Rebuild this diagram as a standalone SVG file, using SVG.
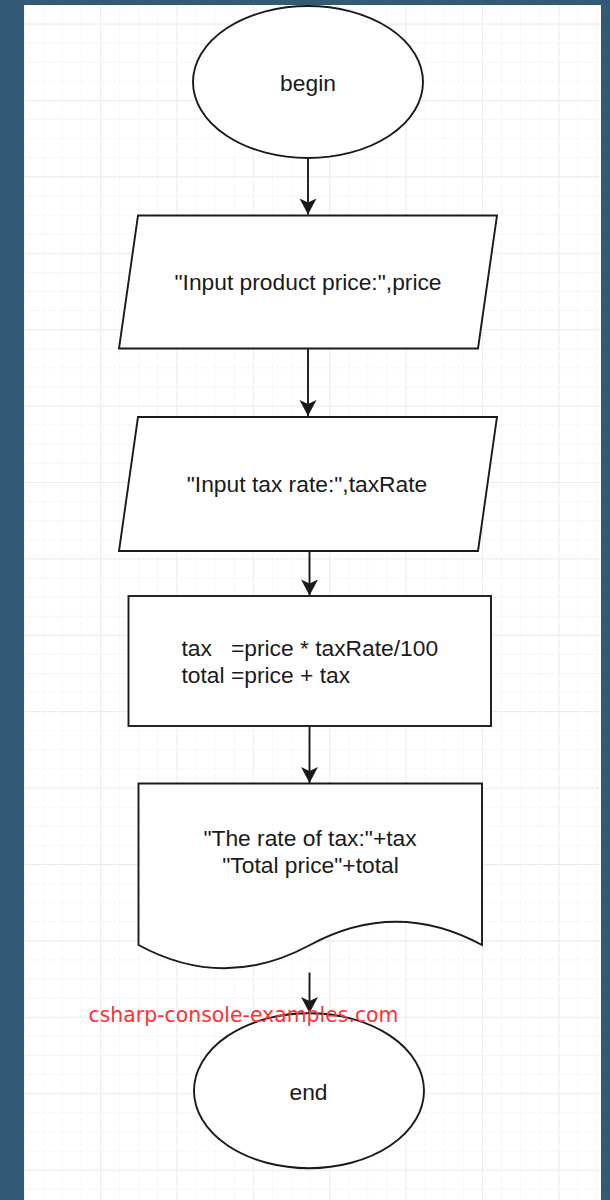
<svg xmlns="http://www.w3.org/2000/svg" width="610" height="1200" viewBox="0 0 610 1200">
  <style>
    .shape { fill: #ffffff; stroke: #1a1a1a; stroke-width: 1.9; }
    .label { font-family: "Liberation Sans", Arial, sans-serif; font-size: 22.8px; fill: #1a1a1a; }
    .mid { text-anchor: middle; }
    .edge { fill: none; stroke: #1a1a1a; stroke-width: 1.9; }
    .mark { font-family: "DejaVu Sans", Verdana, sans-serif; font-size: 20.4px; fill: #ff3030; }
  </style>
  <defs>
    <!-- light grid: minor cells with a darker line every fourth -->
    <pattern id="minor" x="100" y="100" width="19.1" height="19.1" patternUnits="userSpaceOnUse">
      <path d="M0 0 H19.1 M0 0 V19.1" fill="none" stroke="#f3f3f3" stroke-width="1.2"/>
    </pattern>
    <pattern id="major" x="100" y="100" width="76.4" height="76.4" patternUnits="userSpaceOnUse">
      <path d="M0 0 H76.4 M0 0 V76.4" fill="none" stroke="#e8e8e8" stroke-width="1.3"/>
    </pattern>
    <!-- classic arrowhead with a notched back, pointing along +x -->
    <marker id="arrow" markerUnits="userSpaceOnUse" markerWidth="20" markerHeight="20" viewBox="-18 -10 20 20" refX="0" refY="0" orient="auto">
      <path d="M0 0 L-16 -8.5 L-12 0 L-16 8.5 Z" fill="#1a1a1a"/>
    </marker>
  </defs>

  <!-- page frame and canvas -->
  <rect x="0" y="0" width="610" height="1200" fill="#325a74"/>
  <rect x="24" y="5" width="577" height="1195" fill="#ffffff"/>
  <rect x="24" y="5" width="577" height="1195" fill="url(#minor)"/>
  <rect x="24" y="5" width="577" height="1195" fill="url(#major)"/>

  <g id="connectors">
    <line class="edge" x1="308" y1="158" x2="308" y2="214.5" marker-end="url(#arrow)"/>
    <line class="edge" x1="308" y1="348.5" x2="308" y2="416" marker-end="url(#arrow)"/>
    <line class="edge" x1="309.5" y1="551" x2="309.5" y2="595.5" marker-end="url(#arrow)"/>
    <line class="edge" x1="309.5" y1="726" x2="309.5" y2="783" marker-end="url(#arrow)"/>
    <line class="edge" x1="309.5" y1="972.5" x2="309.5" y2="1013" marker-end="url(#arrow)"/>
  </g>

  <g id="begin">
    <ellipse class="shape" cx="308" cy="82" rx="115" ry="76"/>
    <text class="label mid" x="308" y="91">begin</text>
  </g>

  <g id="input-price">
    <polygon class="shape" points="138,215.5 497,215.5 478,348.5 119,348.5"/>
    <text class="label mid" x="308" y="290">"Input product price:",price</text>
  </g>

  <g id="input-rate">
    <polygon class="shape" points="138,417 497,417 478,551 119,551"/>
    <text class="label mid" x="307" y="492">"Input tax rate:",taxRate</text>
  </g>

  <g id="compute">
    <rect class="shape" x="128.5" y="596" width="362.5" height="130"/>
    <text class="label" x="181.5" y="656" xml:space="preserve">tax   =price * taxRate/100</text>
    <text class="label" x="181.5" y="683">total =price + tax</text>
  </g>

  <g id="output">
    <path class="shape" d="M138.5 783.5 H482 V945 Q396 898.5 310 945 Q224 991.5 138.5 945 Z"/>
    <text class="label mid" x="310" y="846">"The rate of tax:"+tax</text>
    <text class="label mid" x="310.5" y="873">"Total price"+total</text>
  </g>

  <g id="end">
    <ellipse class="shape" cx="309" cy="1090.7" rx="115" ry="77.5"/>
    <text class="label mid" x="308.5" y="1100">end</text>
  </g>

  <text class="mark" x="88.5" y="1021.5" textLength="310" lengthAdjust="spacingAndGlyphs">csharp-console-examples.com</text>
</svg>
